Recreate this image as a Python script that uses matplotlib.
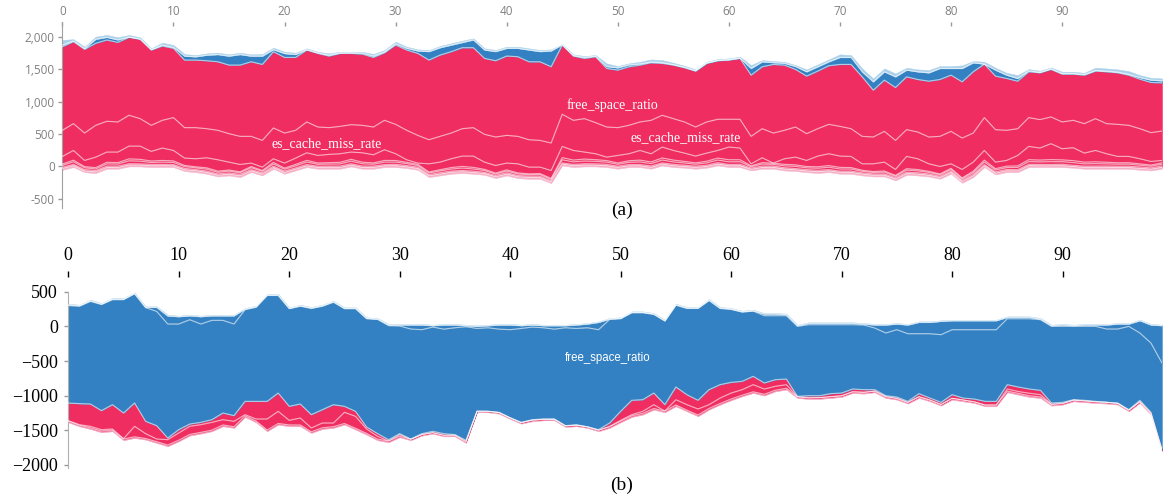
import numpy as np
import matplotlib.pyplot as plt

x = np.arange(100)

# ---- panel (a): layer boundaries, bottom -> top ----
a_bottom = [-52, -10, -88, -103, -36, -36, 0, 0, -10, -10,
            -10, -72, -88, -113, -155, -139, -165, -88, -139, -36,
            -113, -62, -10, -36, -36, -36, 0, -36, -36, -10,
            -10, -26, -52, -165, -139, -113, -103, -113, -129, -180,
            -139, -180, -191, -191, -258, 15, -10, 0, 0, -10,
            -36, -10, -10, -36, 15, -10, -20, -36, -20, 15,
            -10, -10, -62, -36, -36, -62, -72, -88, -103, -88,
            -113, -113, -139, -155, -155, -216, -129, -139, -155, -191,
            -113, -253, -165, -10, -124, -88, -88, -10, -10, -10,
            -10, -20, -36, -36, -36, -36, -36, -52, -62, -36]
a_pink1 = [21, 23, 19, 22, 21, 20, 23, 22, 21, 22, 20, 21, 23, 22, 21, 19, 22, 21, 23, 20,
           21, 22, 20, 21, 23, 22, 21, 20, 22, 21, 23, 21, 20, 22, 21, 23, 22, 20, 21, 22,
           21, 23, 22, 20, 21, 22, 21, 23, 20, 21, 22, 20, 21, 23, 22, 21, 20, 22, 21, 23,
           21, 22, 20, 21, 23, 22, 21, 20, 22, 21, 23, 21, 22, 20, 21, 23, 22, 21, 20, 22,
           21, 23, 22, 20, 21, 22, 21, 23, 20, 21, 22, 20, 21, 23, 22, 21, 20, 22, 21, 23]
a_pink2 = [18, 19, 21, 18, 20, 22, 19, 18, 21, 20, 19, 21, 18, 20, 19, 21, 22, 18, 19, 20,
           21, 18, 20, 19, 18, 20, 21, 22, 19, 18, 20, 19, 21, 18, 22, 19, 20, 21, 18, 19,
           22, 18, 20, 21, 19, 18, 20, 19, 21, 22, 18, 20, 19, 21, 18, 22, 20, 19, 18, 21,
           19, 22, 18, 20, 19, 21, 18, 20, 22, 19, 18, 21, 19, 20, 18, 22, 19, 21, 20, 18,
           19, 20, 22, 18, 21, 19, 18, 20, 21, 19, 22, 18, 20, 19, 21, 18, 20, 22, 19, 21]
a_low1 = [30, 40, 28, 25, 35, 32, 45, 42, 30, 35, 33, 28, 26, 30, 25, 28, 24, 30, 22, 35,
          28, 32, 38, 30, 32, 34, 40, 36, 30, 38, 35, 30, 26, 24, 28, 32, 36, 34, 28, 22,
          26, 24, 22, 25, 20, 48, 40, 42, 38, 34, 30, 34, 40, 36, 44, 38, 34, 30, 36, 40,
          42, 40, 20, 32, 26, 30, 34, 28, 32, 36, 34, 32, 24, 22, 28, 20, 32, 30, 24, 22,
          26, 20, 28, 40, 28, 30, 34, 42, 40, 44, 40, 42, 36, 38, 34, 32, 32, 28, 26, 28]
a_low2 = [20, 25, 18, 20, 24, 22, 30, 28, 22, 26, 24, 18, 16, 20, 18, 16, 15, 18, 14, 24,
          18, 22, 26, 20, 22, 24, 28, 24, 20, 26, 24, 20, 18, 16, 18, 22, 26, 24, 18, 15,
          18, 16, 14, 16, 14, 34, 28, 30, 26, 24, 20, 24, 28, 26, 32, 28, 24, 20, 26, 30,
          32, 30, 14, 22, 18, 22, 24, 20, 22, 26, 24, 22, 16, 15, 18, 14, 22, 20, 16, 14,
          18, 14, 20, 30, 20, 22, 24, 30, 28, 32, 28, 30, 26, 28, 24, 22, 22, 20, 18, 20]
a_line2 = [155, 247, 93, 144, 222, 222, 314, 314, 232, 284,
           247, 129, 119, 134, 103, 67, 31, 52, -10, 119,
           52, 129, 211, 170, 186, 196, 222, 211, 180, 258,
           196, 103, 52, 41, 67, 119, 160, 160, 67, 15,
           52, 41, -10, -10, -62, 309, 247, 222, 196, 144,
           170, 196, 247, 196, 299, 247, 206, 160, 206, 247,
           299, 284, 41, 134, 52, 119, 144, 93, 160, 196,
           160, 155, 41, 41, 67, -46, 155, 119, 41, 0,
           41, -46, 67, 247, 67, 93, 170, 309, 284, 351,
           273, 289, 206, 247, 196, 155, 155, 119, 77, 93]
a_line1 = [557, 660, 515, 634, 696, 686, 789, 737, 634, 711,
           753, 598, 598, 582, 557, 505, 464, 464, 402, 593,
           515, 557, 686, 608, 598, 618, 644, 634, 608, 711,
           649, 557, 479, 412, 464, 515, 582, 598, 495, 454,
           479, 464, 412, 402, 361, 804, 711, 737, 675, 608,
           598, 634, 686, 711, 789, 737, 686, 608, 686, 727,
           727, 727, 464, 582, 515, 557, 608, 505, 582, 649,
           618, 582, 464, 454, 541, 402, 567, 531, 454, 464,
           541, 438, 515, 753, 567, 557, 582, 753, 722, 763,
           686, 711, 660, 737, 660, 649, 634, 582, 521, 546]
a_red_top = [1845, 1923, 1804, 1897, 1948, 1912, 1990, 1959, 1794, 1856,
             1820, 1639, 1639, 1629, 1613, 1562, 1562, 1613, 1572, 1768,
             1680, 1680, 1794, 1742, 1701, 1742, 1742, 1732, 1680, 1753,
             1871, 1794, 1742, 1639, 1716, 1768, 1830, 1830, 1665, 1629,
             1701, 1691, 1613, 1613, 1536, 1871, 1701, 1665, 1691, 1510,
             1485, 1536, 1562, 1598, 1588, 1562, 1521, 1469, 1588, 1629,
             1639, 1665, 1407, 1536, 1572, 1562, 1495, 1392, 1469, 1552,
             1572, 1572, 1381, 1175, 1330, 1216, 1381, 1340, 1314, 1340,
             1407, 1304, 1459, 1577, 1392, 1356, 1314, 1459, 1443, 1495,
             1423, 1423, 1407, 1469, 1459, 1443, 1407, 1345, 1294, 1289]
a_blue_top = [1870, 1935, 1815, 1960, 1990, 1950, 1995, 1965, 1800, 1870,
              1835, 1700, 1690, 1715, 1725, 1700, 1725, 1700, 1700, 1800,
              1740, 1725, 1800, 1750, 1715, 1750, 1752, 1748, 1700, 1765,
              1890, 1820, 1780, 1770, 1830, 1870, 1910, 1950, 1795, 1770,
              1820, 1820, 1795, 1770, 1780, 1875, 1710, 1680, 1700, 1540,
              1520, 1565, 1580, 1610, 1600, 1570, 1530, 1475, 1595, 1635,
              1645, 1670, 1510, 1613, 1600, 1590, 1540, 1459, 1536, 1613,
              1680, 1680, 1459, 1304, 1459, 1381, 1485, 1459, 1443, 1510,
              1510, 1510, 1598, 1577, 1485, 1407, 1356, 1474, 1450, 1505,
              1432, 1432, 1418, 1480, 1470, 1455, 1420, 1370, 1330, 1320]
a_top = [1950, 1960, 1845, 2000, 2026, 1990, 2026, 1990, 1820, 1907,
         1871, 1732, 1716, 1742, 1753, 1727, 1753, 1727, 1732, 1830,
         1768, 1753, 1820, 1768, 1742, 1768, 1768, 1768, 1732, 1794,
         1923, 1845, 1804, 1794, 1856, 1897, 1938, 1974, 1820, 1794,
         1845, 1845, 1820, 1794, 1804, 1887, 1727, 1701, 1716, 1588,
         1546, 1588, 1613, 1649, 1639, 1598, 1552, 1495, 1613, 1655,
         1665, 1691, 1562, 1639, 1624, 1613, 1562, 1495, 1572, 1649,
         1727, 1716, 1510, 1356, 1510, 1433, 1521, 1495, 1485, 1546,
         1546, 1557, 1624, 1613, 1521, 1443, 1407, 1500, 1474, 1526,
         1459, 1459, 1443, 1521, 1510, 1495, 1469, 1407, 1366, 1356]

# ---- panel (b): layer boundaries, bottom -> top ----
b_bottom = [-1385, -1442, -1481, -1529, -1514, -1644, -1611, -1635, -1683, -1731,
            -1659, -1577, -1548, -1514, -1442, -1466, -1308, -1385, -1514, -1418,
            -1442, -1442, -1538, -1481, -1466, -1418, -1490, -1562, -1644, -1673,
            -1600, -1644, -1577, -1548, -1587, -1587, -1683, -1240, -1240, -1260,
            -1336, -1404, -1370, -1356, -1356, -1452, -1442, -1466, -1514, -1466,
            -1385, -1308, -1274, -1202, -1240, -1154, -1226, -1298, -1202, -1130,
            -1067, -1010, -962, -1000, -938, -913, -1034, -1048, -1048, -1034,
            -1019, -962, -971, -952, -1034, -1058, -1115, -1034, -1082, -1144,
            -1058, -1082, -1106, -1154, -1154, -952, -986, -1019, -1034, -1144,
            -1130, -1082, -1096, -1106, -1115, -1130, -1226, -1106, -1274, -1803]
b_pink = [19, 17, 18, 20, 17, 19, 18, 17, 20, 19, 17, 18, 19, 17, 20, 18, 17, 19, 18, 17,
          20, 19, 17, 18, 19, 17, 20, 18, 17, 19, 16, 15, 16, 14, 15, 16, 15, 15, 14, 15,
          16, 15, 16, 14, 15, 16, 15, 16, 15, 16, 18, 17, 19, 17, 18, 20, 17, 19, 18, 17,
          19, 17, 18, 20, 17, 19, 18, 17, 20, 19, 17, 18, 19, 17, 20, 18, 17, 19, 18, 17,
          20, 19, 17, 18, 19, 17, 20, 18, 17, 19, 17, 18, 20, 17, 19, 18, 17, 19, 18, 17]
b_inner = [-1360, -1418, -1442, -1490, -1481, -1620, -1442, -1548, -1625, -1635,
           -1538, -1442, -1418, -1385, -1346, -1370, -1274, -1336, -1336, -1226,
           -1356, -1322, -1466, -1394, -1394, -1240, -1298, -1481, -1587, -1655,
           -1562, -1632, -1565, -1535, -1575, -1575, -1660, -1232, -1232, -1250,
           -1328, -1395, -1358, -1346, -1346, -1442, -1430, -1459, -1500, -1442,
           -1356, -1274, -1226, -1130, -1226, -1058, -1130, -1192, -1130, -1034,
           -962, -913, -841, -904, -865, -841, -1019, -1035, -1035, -1020,
           -1005, -950, -958, -940, -1020, -1045, -1100, -1020, -1068, -1130,
           -1045, -1068, -1092, -1140, -1140, -904, -940, -965, -985, -1130,
           -1115, -1070, -1082, -1092, -1100, -1115, -1212, -1092, -1260, -1790]
b_boundary = [-1106, -1115, -1120, -1216, -1130, -1250, -1106, -1370, -1433, -1611,
              -1490, -1409, -1385, -1346, -1250, -1288, -1082, -1082, -1082, -962,
              -1154, -1120, -1274, -1202, -1130, -1154, -1226, -1452, -1548, -1635,
              -1548, -1625, -1548, -1514, -1548, -1562, -1644, -1226, -1226, -1240,
              -1322, -1385, -1346, -1336, -1336, -1433, -1418, -1452, -1490, -1394,
              -1226, -1067, -1058, -962, -1130, -875, -986, -1067, -913, -841,
              -808, -793, -721, -817, -769, -760, -1010, -1000, -1000, -971,
              -962, -904, -913, -913, -1000, -1019, -1082, -971, -1034, -1096,
              -986, -1034, -1048, -1082, -1082, -841, -875, -904, -923, -1106,
              -1096, -1058, -1067, -1082, -1096, -1106, -1202, -1067, -1240, -1779]
b_free_top = [300, 290, 360, 315, 385, 385, 470, 270, 216, 34,
              34, 96, 34, 87, 87, 34, 240, 275, 445, 445,
              255, 290, 258, 290, 348, 255, 255, 110, 100, 10,
              5, -38, -48, -10, -40, -20, -5, -30, -20, -40,
              -48, -30, -10, -20, -40, -20, -30, -20, -48, 100,
              110, 196, 196, 172, 76, 305, 258, 258, 372, 258,
              244, 205, 220, 154, 154, 154, 0, 24, 24, 24,
              24, 24, 20, -24, -96, -48, -106, -106, -106, -120,
              -48, -48, -48, -48, -48, 110, 110, 110, 96, 0,
              0, 0, 0, 0, -38, -38, 0, -96, -240, -529]
b_blue_top = [312, 298, 370, 322, 394, 394, 476, 274, 274, 150,
              140, 152, 140, 152, 152, 152, 250, 284, 452, 452,
              260, 298, 265, 298, 356, 260, 260, 116, 106, 20,
              20, 20, 20, 10, 20, 20, 10, 0, 10, 20,
              20, 10, 20, 10, 10, 10, 20, 34, 58, 106,
              116, 202, 202, 178, 82, 313, 265, 265, 380, 265,
              250, 212, 226, 178, 178, 169, 10, 44, 44, 44,
              44, 44, 34, 20, 20, 34, 20, 58, 58, 73,
              82, 82, 82, 82, 82, 130, 130, 130, 106, 10,
              20, 10, 20, 20, 20, 34, 34, 82, 20, 10]
b_top = [327, 312, 385, 337, 409, 409, 490, 288, 288, 168,
         154, 168, 154, 168, 168, 168, 264, 298, 466, 466,
         274, 312, 279, 312, 370, 274, 274, 130, 120, 34,
         34, 34, 34, 24, 34, 34, 24, 14, 24, 34,
         34, 24, 34, 24, 24, 24, 34, 48, 72, 120,
         130, 216, 216, 192, 96, 327, 279, 279, 394, 279,
         264, 226, 240, 192, 192, 183, 24, 58, 58, 58,
         58, 58, 48, 34, 34, 48, 34, 72, 72, 87,
         96, 96, 96, 96, 96, 144, 144, 144, 120, 24,
         34, 24, 34, 34, 34, 48, 48, 96, 34, 24]

RED = '#ef2d61'
BLUE = '#3381c2'
LIGHT = '#a9d0ea'
PINK = '#f497b6'
PINK_LIGHT = '#f6b3c9'
SERIF = 'Liberation Serif'


def draw_stream(ax, layers, colors):
    bounds = np.maximum.accumulate(np.array(layers, dtype=float), axis=0)
    for lo, hi, c in zip(bounds[:-1], bounds[1:], colors):
        ax.fill_between(x, lo, hi, facecolor=c, edgecolor=c, lw=0.3, zorder=2)
    for b in bounds[1:-1]:
        ax.plot(x, b, color='white', lw=0.8, alpha=0.6, zorder=3)


fig = plt.figure(figsize=(11.63, 5), dpi=100)

# (a)
ax = fig.add_axes([0.0536, 0.584, 0.9456, 0.3726])
a_base = np.array(a_bottom)
a_layers = [a_base,
            a_base + a_pink1,
            a_base + a_pink1 + a_pink2,
            a_base + a_pink1 + a_pink2 + a_low1,
            a_base + a_pink1 + a_pink2 + a_low1 + a_low2,
            a_line2, a_line1, a_red_top, a_blue_top, a_top]
draw_stream(ax, a_layers, [PINK_LIGHT, PINK, RED, RED, RED, RED, RED, BLUE, LIGHT])
ax.set_xlim(0, 99)
ax.set_ylim(-640, 2230)
for s in ['top', 'right', 'bottom']:
    ax.spines[s].set_visible(False)
ax.spines['left'].set_color('#a0a0a0')
ax.xaxis.tick_top()
ax.set_xticks(range(0, 100, 10))
ax.set_yticks([-500, 0, 500, 1000, 1500, 2000])
ax.set_yticklabels([f'{v:,}' for v in [-500, 0, 500, 1000, 1500, 2000]])
ax.tick_params(axis='x', direction='in', length=3.2, width=1, color='#999999',
               labelcolor='#808080', labelsize=8.5, pad=3, labelfontfamily='Open Sans')
ax.tick_params(axis='y', direction='out', length=3, width=1, color='#999999',
               labelcolor='#808080', labelsize=8.5, pad=2.5, labelfontfamily='Open Sans')
ax.text(49.5, 940, 'free_space_ratio', color='white', fontsize=10, family=SERIF,
        ha='center', va='center', zorder=4)
ax.text(23.8, 359, 'es_cache_miss_rate', color='white', fontsize=10, family=SERIF,
        ha='center', va='center', zorder=4)
ax.text(56.1, 451, 'es_cache_miss_rate', color='white', fontsize=10, family=SERIF,
        ha='center', va='center', zorder=4)

# (b)
bx = fig.add_axes([0.0587, 0.0634, 0.9404, 0.3532])
b_base = np.array(b_bottom)
b_layers = [b_base, b_base + b_pink, b_inner, b_boundary, b_free_top, b_blue_top, b_top]
draw_stream(bx, b_layers, [PINK, RED, RED, BLUE, BLUE, LIGHT])
bx.set_xlim(0, 99)
bx.set_ylim(-2048, 500)
bx.spines['top'].set_position(('outward', 10.8))
for s in ['top', 'right', 'bottom']:
    bx.spines[s].set_visible(False)
bx.spines['left'].set_color('#b0b0b0')
bx.xaxis.tick_top()
bx.set_xticks(range(0, 100, 10))
bx.set_yticks([500, 0, -500, -1000, -1500, -2000])
bx.tick_params(axis='x', direction='out', length=4.3, width=1, color='black',
               labelcolor='black', labelsize=13, pad=5, labelfontfamily=SERIF)
bx.tick_params(axis='y', direction='out', length=3, width=1, color='#999999',
               labelcolor='black', labelsize=13, pad=4.5, labelfontfamily=SERIF)
bx.text(48.8, -456, 'free_space_ratio', color='white', fontsize=8.3,
        family='Liberation Sans', ha='center', va='center', zorder=4)

fig.text(622 / 1163, 1 - 210 / 500, '(a)', ha='center', va='center', fontsize=14, family=SERIF)
fig.text(622 / 1163, 1 - 485 / 500, '(b)', ha='center', va='center', fontsize=14, family=SERIF)

fig.savefig('out.png', dpi=100)
